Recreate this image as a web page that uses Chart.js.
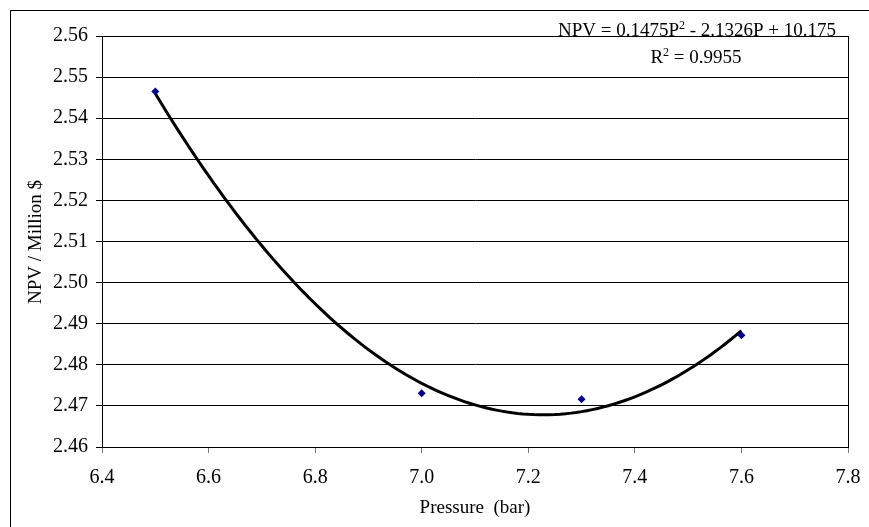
<!DOCTYPE html>
<html>
<head>
<meta charset="utf-8">
<style>
html,body{margin:0;padding:0;background:#fff;}
canvas{display:block;}
</style>
<script src="https://cdn.jsdelivr.net/npm/chart.js@4.4.0/dist/chart.umd.min.js"></script>
</head>
<body>
<canvas id="c" width="869" height="527"></canvas>
<script>
// ---- data ----
const pressure = [6.5, 7.0, 7.3, 7.6];
const npv = [2.5465, 2.4731, 2.4716, 2.4872];
const xTitle = 'Pressure  (bar)';
const yTitle = 'NPV / Million $';
const eqMain = 'NPV = 0.1475P';
const eqSup = '2';
const eqRest = ' - 2.1326P + 10.175';
const r2Main = 'R';
const r2Sup = '2';
const r2Rest = ' = 0.9955';
const xMin = 6.4, xMax = 7.8, xStep = 0.2;
const yMin = 2.46, yMax = 2.56, yStep = 0.01;

// quadratic least-squares trendline (as Excel does) from the data
function quadFit(xs, ys) {
  let s = [0,0,0,0,0], t = [0,0,0];
  for (let i = 0; i < xs.length; i++) {
    let p = 1;
    for (let k = 0; k < 5; k++) { s[k] += p; if (k < 3) t[k] += p * ys[i]; p *= xs[i]; }
  }
  const A = [[s[0],s[1],s[2],t[0]],[s[1],s[2],s[3],t[1]],[s[2],s[3],s[4],t[2]]];
  for (let i = 0; i < 3; i++) {
    for (let j = i + 1; j < 3; j++) {
      const f = A[j][i] / A[i][i];
      for (let k = i; k < 4; k++) A[j][k] -= f * A[i][k];
    }
  }
  const c = [0,0,0];
  for (let i = 2; i >= 0; i--) {
    let v = A[i][3];
    for (let k = i + 1; k < 3; k++) v -= A[i][k] * c[k];
    c[i] = v / A[i][i];
  }
  return c; // c0 + c1 x + c2 x^2
}
const coef = quadFit(pressure, npv);
const trend = [];
const x0 = pressure[0], x1 = pressure[pressure.length - 1];
for (let i = 0; i <= 110; i++) {
  const x = x0 + (x1 - x0) * i / 110;
  trend.push({x: x, y: coef[0] + coef[1] * x + coef[2] * x * x});
}

const FONT = '"Liberation Serif", "Times New Roman", serif';

const decor = {
  id: 'decor',
  afterDraw(chart) {
    const ctx = chart.ctx, a = chart.chartArea;
    ctx.save();
    // outer border
    ctx.strokeStyle = '#000';
    ctx.lineWidth = 1;
    ctx.strokeRect(10.5, 10.5, 900, 600);
    // plot area border
    ctx.strokeRect(Math.round(a.left) + 0.5, Math.round(a.top) + 0.5, Math.round(a.right - a.left), Math.round(a.bottom - a.top));
    ctx.fillStyle = '#000';
    // axis titles
    ctx.font = '19px ' + FONT;
    ctx.textAlign = 'center';
    ctx.textBaseline = 'middle';
    ctx.fillText(xTitle, 475, 508);
    ctx.save();
    ctx.translate(36, 242);
    ctx.rotate(-Math.PI / 2);
    ctx.fillText(yTitle, 0, 0);
    ctx.restore();
    // equation text
    function supText(main, sup, rest, cx, base) {
      ctx.textAlign = 'left';
      ctx.textBaseline = 'alphabetic';
      ctx.font = '19px ' + FONT;
      const w1 = ctx.measureText(main).width;
      const w3 = ctx.measureText(rest).width;
      ctx.font = '12px ' + FONT;
      const w2 = ctx.measureText(sup).width;
      let x = cx - (w1 + w2 + w3) / 2;
      ctx.font = '19px ' + FONT;
      ctx.fillText(main, x, base); x += w1;
      ctx.font = '12px ' + FONT;
      ctx.fillText(sup, x, base - 7); x += w2;
      ctx.font = '19px ' + FONT;
      ctx.fillText(rest, x, base);
    }
    supText(eqMain, eqSup, eqRest, 697, 36);
    supText(r2Main, r2Sup, r2Rest, 696, 63);
    ctx.restore();
  }
};

new Chart(document.getElementById('c'), {
  type: 'scatter',
  data: {
    datasets: [
      {
        label: 'Trend',
        data: trend,
        showLine: true,
        borderColor: '#000',
        borderWidth: 3,
        pointRadius: 0,
        fill: false,
        tension: 0,
        order: 2
      },
      {
        label: 'NPV',
        data: pressure.map((p, i) => ({x: p, y: npv[i]})),
        pointStyle: 'rectRot',
        pointRadius: 4,
        backgroundColor: '#000080',
        borderColor: '#000080',
        borderWidth: 0,
        showLine: false,
        order: 1
      }
    ]
  },
  options: {
    responsive: false,
    devicePixelRatio: 1,
    animation: false,
    events: [],
    layout: {padding: {left: 0, top: 36, right: 21, bottom: 0}},
    plugins: {legend: {display: false}, tooltip: {enabled: false}},
    scales: {
      x: {
        type: 'linear',
        min: xMin, max: xMax,
        afterFit(s) { s.height = 80; s.paddingRight = 0; s.paddingLeft = 0; },
        ticks: {
          stepSize: xStep,
          color: '#000',
          font: {family: FONT, size: 20},
          padding: 13,
          maxRotation: 0,
          callback: v => Number(v).toFixed(1)
        },
        grid: {drawOnChartArea: false, drawTicks: true, tickLength: 6, color: '#777', lineWidth: 1},
        border: {display: true, color: '#000', width: 1}
      },
      y: {
        type: 'linear',
        min: yMin, max: yMax,
        afterFit(s) { s.width = 102; s.paddingTop = 0; s.paddingBottom = 0; },
        ticks: {
          stepSize: yStep,
          color: '#000',
          font: {family: FONT, size: 20},
          padding: 8,
          callback: v => Number(v).toFixed(2)
        },
        grid: {drawOnChartArea: true, drawTicks: true, tickLength: 6, color: '#000', lineWidth: 1},
        border: {display: true, color: '#000', width: 1}
      }
    }
  },
  plugins: [decor]
});
</script>
</body>
</html>
